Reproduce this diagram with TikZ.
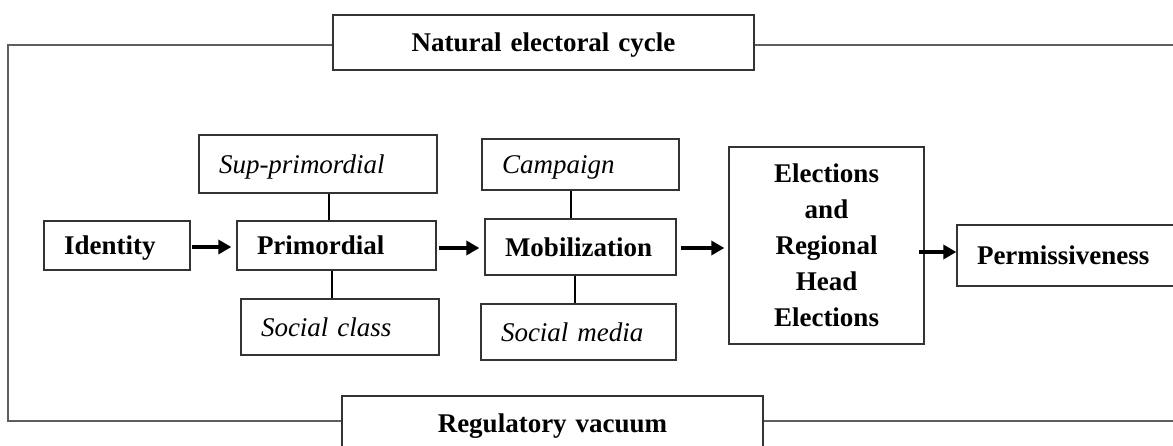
\documentclass[tikz,border=0pt]{standalone}
\usepackage{fontspec}
\setmainfont{Liberation Serif}
\usetikzlibrary{arrows.meta}
\definecolor{framegray}{HTML}{5E5E5E}
\definecolor{boxgray}{HTML}{333333}
\tikzset{
  box/.style={draw=boxgray, line width=1.3pt, inner xsep=20pt, inner ysep=0pt, align=left,
    text depth=0pt, font=\fontsize{27}{36}\selectfont},
  bbox/.style={box, font=\fontsize{27}{36}\selectfont\bfseries},
  ibox/.style={box, font=\fontsize{27}{36}\selectfont\itshape},
  arr/.style={line width=3.8pt, -{Triangle[length=13pt,width=14pt]}},
  link/.style={line width=1.8pt, black},
  frameline/.style={draw=framegray, line width=1.4pt}
}
\begin{document}
\begin{tikzpicture}[x=1pt,y=1pt]
\useasboundingbox (0,0) rectangle (1173,-446);
\clip (0,0) rectangle (1173,-446);
\fill[white] (0,0) rectangle (1173,-446);

\node[bbox, align=center, text width=381pt, minimum height=55pt] (nat) at (543.5,-42.5) {Natural electoral cycle};
\node[bbox, align=center, text width=381pt, minimum height=55pt] (reg) at (552.5,-423.5) {Regulatory vacuum};

\node[ibox, text width=198pt, minimum height=58pt] (sup) at (318,-164) {Sup-primordial};
\node[bbox, text width=106pt, minimum height=49pt] (id) at (117,-245.5) {Identity};
\node[bbox, text width=159pt, minimum height=49pt] (prim) at (336.5,-245.5) {Primordial};
\node[ibox, text width=158pt, minimum height=56pt] (soc) at (340,-327) {Social class};
\node[ibox, text width=157pt, minimum height=51pt] (camp) at (580.5,-164.5) {Campaign};
\node[bbox, text width=151pt, minimum height=56pt] (mob) at (580.5,-247) {Mobilization};
\node[ibox, text width=155pt, minimum height=56pt] (smed) at (578.5,-332) {Social media};
\node[bbox, align=center, text width=155pt, minimum height=197pt, text depth=] (elec) at (826.5,-245.5) {Elections\\and\\Regional\\Head\\Elections};
\node[bbox, text width=192pt, minimum height=61pt] (perm) at (1073,-255.5) {Permissiveness};

\coordinate (tl) at (8,-45);
\coordinate (bl) at (8,-421);
\coordinate (tr) at (1180,-45);
\coordinate (br) at (1180,-421);

\draw[frameline] ([yshift=-2.5pt]nat.west) -- (tl) -- (bl) -- ([yshift=2.5pt]reg.west);
\draw[frameline] ([yshift=-2.5pt]nat.east) -- (tr);
\draw[frameline] ([yshift=2.5pt]reg.east) -- (br);

\draw[link] ([xshift=11pt]sup.south) -- ([xshift=11pt]sup.south |- prim.north);
\draw[link] ([xshift=-4.5pt]prim.south) -- ([xshift=-4.5pt]prim.south |- soc.north);
\draw[link] ([xshift=-9.5pt]camp.south) -- ([xshift=-9.5pt]camp.south |- mob.north);
\draw[link] ([xshift=-5.5pt]mob.south) -- ([xshift=-5.5pt]mob.south |- smed.north);

\draw[arr] ([xshift=1pt,yshift=-1.5pt]id.east) -- ([xshift=-5pt,yshift=-1.5pt]prim.west);
\draw[arr] ([xshift=2pt,yshift=-2.5pt]prim.east) -- ([xshift=-5pt,yshift=-1pt]mob.west);
\draw[arr] ([xshift=4pt,yshift=-1pt]mob.east) -- ([xshift=-4pt,yshift=-2.5pt]elec.west);
\draw[arr] ([xshift=-6pt,yshift=-6.5pt]elec.east) -- ([yshift=3.5pt]perm.west);
\end{tikzpicture}
\end{document}
